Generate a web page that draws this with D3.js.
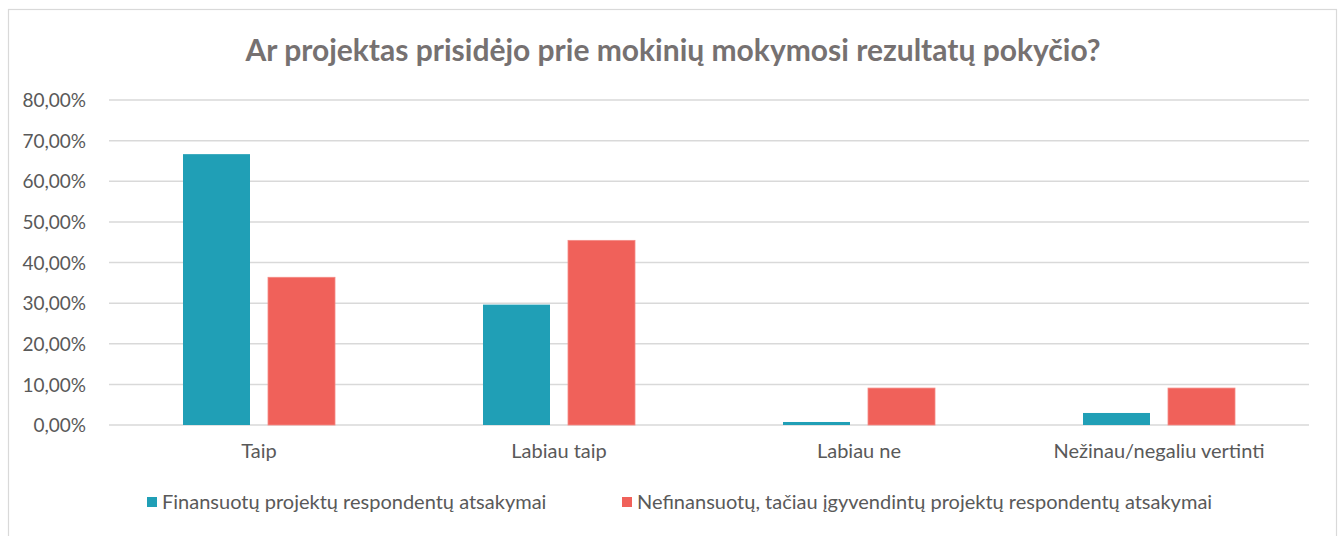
<!DOCTYPE html>
<html>
<head>
<meta charset="utf-8">
<script src="https://cdn.jsdelivr.net/npm/d3@7"></script>
<style>
  body { margin: 0; background: #fff; }
  text { font-family: Lato, "Open Sans", sans-serif; }
</style>
</head>
<body>
<script>
// Data
var categories = ["Taip", "Labiau taip", "Labiau ne", "Nežinau/negaliu vertinti"];
var seriesNames = ["Finansuotų projektų respondentų atsakymai",
                   "Nefinansuotų, tačiau įgyvendintų projektų respondentų atsakymai"];
var funded = [66.67, 29.63, 0.74, 2.96];
var nonFunded = [36.36, 45.45, 9.09, 9.09];
var yTicks = [0, 10, 20, 30, 40, 50, 60, 70, 80];

var colors = ["#209FB6", "#F0615A"];

var W = 1338, H = 536;
var margin = {top: 100, right: 29, bottom: 111, left: 109},
    width = W - margin.left - margin.right,
    height = H - margin.top - margin.bottom;

var svg = d3.select("body").append("svg")
    .attr("width", W)
    .attr("height", H);

// chart area border
svg.append("rect")
    .attr("x", 8.5).attr("y", 9.5)
    .attr("width", 1328).attr("height", 540)
    .attr("fill", "none")
    .attr("stroke", "#d9d9d9")
    .attr("stroke-width", 1.2);

var g = svg.append("g")
    .attr("transform", "translate(" + margin.left + "," + margin.top + ")");

var x = d3.scaleBand()
    .domain(categories)
    .range([0, width]);

var y = d3.scaleLinear()
    .domain([0, 80])
    .range([height, 0]);

// gridlines
g.append("g")
  .selectAll("line")
  .data(yTicks)
  .enter().append("line")
    .attr("x1", 0).attr("x2", width)
    .attr("y1", function(d) { return y(d); })
    .attr("y2", function(d) { return y(d); })
    .attr("stroke", "#d9d9d9")
    .attr("stroke-width", 1.5);

// Y axis labels
var yAxis = g.append("g")
    .attr("transform", "translate(-20,0)")
    .call(d3.axisLeft(y).tickValues(yTicks).tickSize(0)
      .tickFormat(function(d) { return d3.format(".2f")(d).replace(".", ",") + "%"; }));
yAxis.select(".domain").remove();
yAxis.selectAll("text")
    .attr("fill", "#595959")
    .style("font-size", "19px")
    .attr("dy", "0.35em");

// X axis labels
var xAxis = g.append("g")
    .attr("transform", "translate(0," + height + ")")
    .call(d3.axisBottom(x).tickSize(0));
xAxis.select(".domain").remove();
xAxis.selectAll("text")
    .attr("fill", "#595959")
    .style("font-size", "20px")
    .attr("y", 19)
    .attr("dy", "0.71em");

// bars
var barW = 67, gap = 18;
var series = [funded, nonFunded];
series.forEach(function(vals, si) {
  g.append("g")
    .selectAll("rect")
    .data(vals)
    .enter().append("rect")
      .attr("x", function(d, i) {
        var c = x(categories[i]) + x.bandwidth() / 2;
        return si === 0 ? c - gap / 2 - barW : c + gap / 2;
      })
      .attr("y", function(d) { return y(d); })
      .attr("width", barW)
      .attr("height", function(d) { return height - y(d); })
      .attr("fill", colors[si])
      .attr("stroke", si === 1 ? "#F48A85" : "none")
      .attr("stroke-width", 0.8);
});

// Title
svg.append("text")
    .attr("x", 673)
    .attr("y", 61)
    .attr("text-anchor", "middle")
    .attr("fill", "#767171")
    .style("font-size", "30px")
    .style("font-weight", "bold")
    .text("Ar projektas prisidėjo prie mokinių mokymosi rezultatų pokyčio?");

// Legend
var legendX = [147, 622];
var legend = svg.append("g");
seriesNames.forEach(function(name, i) {
  legend.append("rect")
      .attr("x", legendX[i]).attr("y", 497)
      .attr("width", 10).attr("height", 10)
      .attr("fill", colors[i]);
  legend.append("text")
      .attr("x", legendX[i] + 15)
      .attr("y", 502)
      .attr("dy", "0.35em")
      .attr("fill", "#595959")
      .style("font-size", "20px")
      .text(name);
});
</script>
</body>
</html>
